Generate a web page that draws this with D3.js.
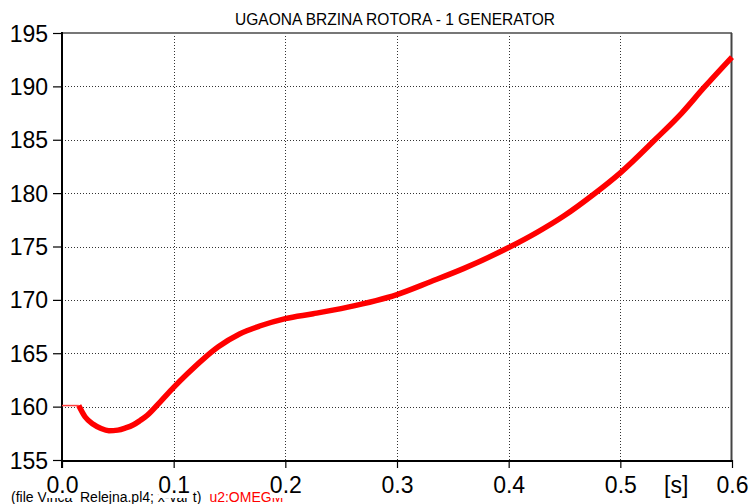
<!DOCTYPE html>
<html><head><meta charset="utf-8">
<script src="https://cdn.jsdelivr.net/npm/d3@7"></script>
<style>body{margin:0;background:#fff}svg{display:block}text{font-family:"Liberation Sans",Arial,sans-serif}</style>
</head><body>
<script>
const title = "UGAONA BRZINA ROTORA - 1 GENERATOR";
const footerBlack = "(file Vinca_Relejna.pl4; x-var t)";
const footerRed = "u2:OMEGM";
const xTicks = [0.0, 0.1, 0.2, 0.3, 0.4, 0.5, 0.6];
const yTicks = [155, 160, 165, 170, 175, 180, 185, 190, 195];
const xUnit = "[s]";
// initial (thin) segment
const t0 = [0, 0.015];
const w0 = [160.1, 160.1];
// main trace
const tMain = [0.015,0.0206,0.028,0.035,0.042,0.05,0.057,0.064,0.07,0.076,0.088,0.1,0.112,0.127,0.14,0.159,0.177,0.2,0.225,0.255,0.3,0.33,0.36,0.4,0.425,0.45,0.475,0.5,0.531,0.555,0.575,0.6];
const wMain = [160.1,159.05,158.35,157.95,157.75,157.8,158.0,158.3,158.7,159.15,160.45,161.8,163.05,164.5,165.6,166.8,167.55,168.25,168.7,169.3,170.5,171.7,172.95,174.9,176.3,177.9,179.8,181.9,185.0,187.5,189.9,192.75];

const W = 751, H = 504;
const L = 62, R = 732, T = 33, B = 460;
const svg = d3.select("body").append("svg").attr("width", W).attr("height", H);
const x = d3.scaleLinear().domain([0, 0.6]).range([L, R]);
const y = d3.scaleLinear().domain([155, 195]).range([B, T]);

// title
svg.append("text").attr("x", 395).attr("y", 25).attr("text-anchor", "middle")
  .attr("font-size", 16).attr("textLength", 320).attr("lengthAdjust", "spacingAndGlyphs")
  .attr("fill", "#000").text(title);

// grid
const grid = svg.append("g").attr("stroke", "#333").attr("stroke-width", 1).attr("stroke-dasharray", "1,2");
grid.selectAll("line.v").data(xTicks.filter(d => d > 0 && d < 0.6)).join("line")
  .attr("x1", d => Math.round(x(d)) + 0.5).attr("x2", d => Math.round(x(d)) + 0.5).attr("y1", T).attr("y2", B);
grid.selectAll("line.h").data(yTicks.filter(d => d > 155 && d < 195)).join("line").attr("class","h")
  .attr("y1", d => Math.round(y(d)) + 0.5).attr("y2", d => Math.round(y(d)) + 0.5).attr("x1", L).attr("x2", R);

// footer (drawn before x labels so their backgrounds cover it, as in the reference)
const ft = svg.append("text").attr("x", 11).attr("y", 502).attr("font-size", 14);
ft.append("tspan").attr("fill", "#000").text(footerBlack);
ft.append("tspan").attr("fill", "#ff0000").attr("dx", 8).text(footerRed);

// frame
svg.append("line").attr("x1", L).attr("x2", R).attr("y1", T).attr("y2", T).attr("stroke", "#777").attr("stroke-width", 2);
svg.append("line").attr("x1", R - 0.5).attr("x2", R - 0.5).attr("y1", T).attr("y2", B).attr("stroke", "#444").attr("stroke-width", 2);

// axes
const yAxis = d3.axisLeft(y).tickValues(yTicks).tickSize(9).tickFormat(d3.format("d"));
const gy = svg.append("g").attr("transform", `translate(${L},0)`).call(yAxis);
gy.select(".domain").remove();
gy.selectAll(".tick line").attr("stroke", "#000").attr("stroke-width", 1.2);
gy.selectAll(".tick text").attr("font-size", 23).attr("x", -14).attr("dy", "0.35em")
  .attr("font-family", "'Liberation Sans',Arial,sans-serif").attr("fill", "#000");

const xAxis = d3.axisBottom(x).tickValues(xTicks).tickSize(8).tickFormat(d3.format(".1f"));
const gx = svg.append("g").attr("transform", `translate(0,${B})`).call(xAxis);
gx.select(".domain").remove();
gx.selectAll(".tick line").attr("stroke", "#000").attr("stroke-width", 1.2);
gx.selectAll(".tick text").attr("font-size", 23).attr("y", 33).attr("dy", 0)
  .attr("font-family", "'Liberation Sans',Arial,sans-serif").attr("fill", "#000");
// white backgrounds behind x labels
gx.selectAll(".tick").each(function() {
  const tx = d3.select(this).select("text");
  const bb = tx.node().getBBox();
  d3.select(this).insert("rect", "text").attr("x", bb.x).attr("y", bb.y + 2).attr("width", bb.width).attr("height", bb.height - 2).attr("fill", "#fff");
});
// unit label
svg.append("text").attr("x", x(0.55)).attr("y", B + 33).attr("text-anchor", "middle").attr("font-size", 23).attr("fill", "#000").text(xUnit);

svg.append("line").attr("x1", L).attr("x2", L).attr("y1", T - 1).attr("y2", B + 8).attr("stroke", "#000").attr("stroke-width", 2);
svg.append("line").attr("x1", L).attr("x2", R + 1).attr("y1", B + 1).attr("y2", B + 1).attr("stroke", "#000").attr("stroke-width", 2);

// traces
const line = d3.line().x(d => x(d[0])).y(d => y(d[1]));
svg.append("path").datum(t0.map((t, i) => [t, w0[i]])).attr("d", line)
  .attr("fill", "none").attr("stroke", "#ff4040").attr("stroke-width", 1.5);
svg.append("path").datum(tMain.map((t, i) => [t, wMain[i]])).attr("d", line.curve(d3.curveMonotoneX))
  .attr("fill", "none").attr("stroke", "#ff0000").attr("stroke-width", 5.5);
</script>
</body></html>
